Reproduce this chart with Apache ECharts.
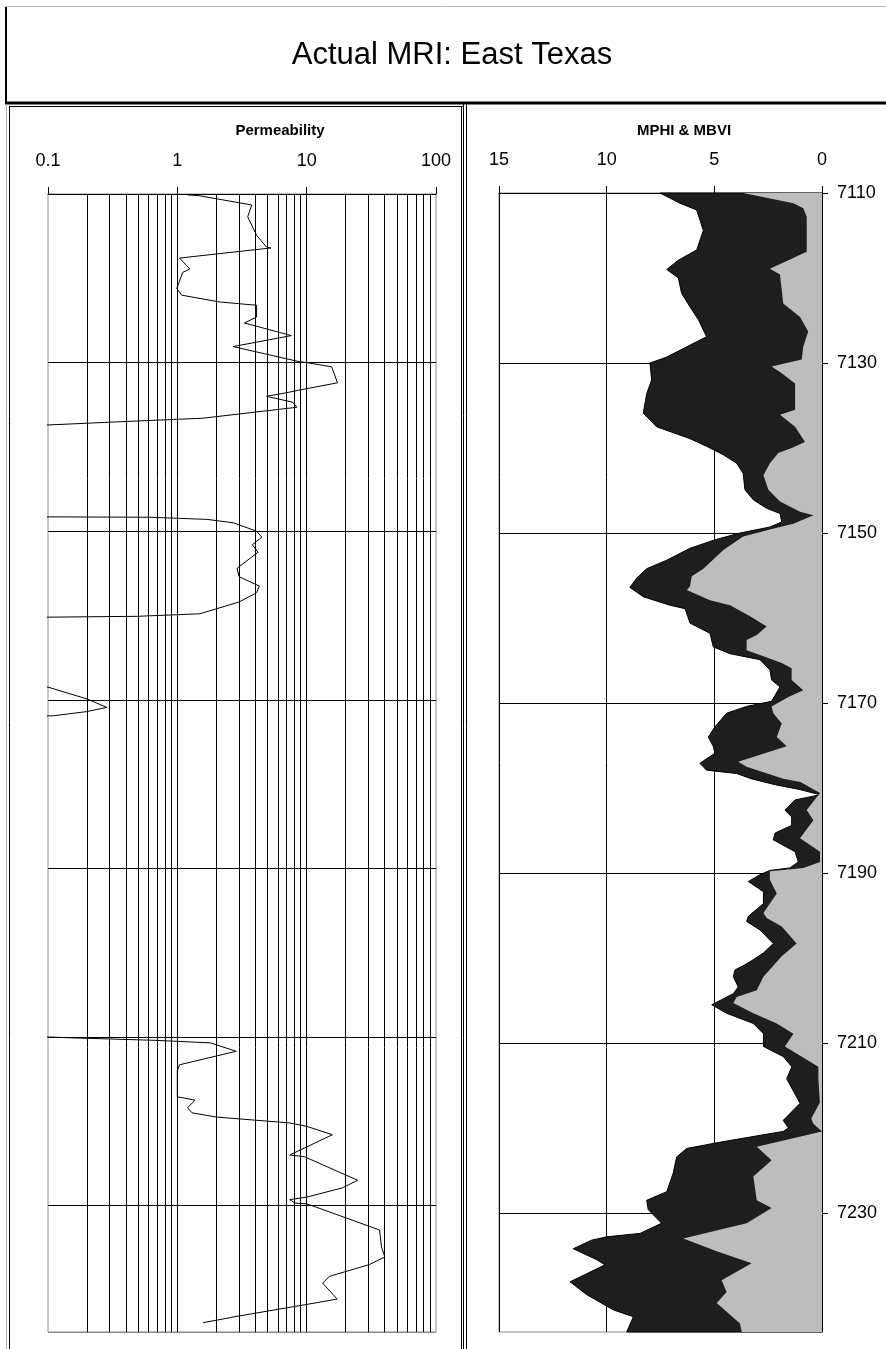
<!DOCTYPE html>
<html><head><meta charset="utf-8">
<script src="https://cdn.jsdelivr.net/npm/echarts@6/dist/echarts.min.js"></script>
<style>html,body{margin:0;padding:0;background:#fff}#c{width:886px;height:1349px}</style>
</head><body><div id="c"></div>
<script>
const chartTitle = 'Actual MRI: East Texas';
const leftTitle = 'Permeability';
const rightTitle = 'MPHI & MBVI';
const depthTicks = [7110, 7130, 7150, 7170, 7190, 7210, 7230];
const permMinorLines = [0.2,0.3,0.4,0.5,0.6,0.7,0.8,0.9,1,2,3,4,5,6,7,8,9,10,20,30,40,50,60,70,80,90];

// Permeability (mD) vs depth (ft); 0.01 marks values below the 0.1 scale
const permDepth = [7110.1,7110.2,7111.3,7112.7,7114.9,7116.3,7116.4,7117.6,7118.9,7119.3,7121.2,7122.0,7122.8,7123.2,7124.6,7125.3,7126.8,7128.1,7129.9,7130.0,7130.5,7132.4,7133.3,7133.5,7134.0,7134.7,7135.3,7136.6,7137.0,7137.4,7137.6,
  7148.0,7148.3,7148.35,7148.6,7149.0,7150.0,7150.7,7151.6,7152.5,7154.4,7155.4,7156.5,7157.3,7158.4,7159.8,7160.1,7160.2,7160.3,
  7168.2,7168.5,7169.9,7170.9,7171.4,7171.9,7172.1,
  7209.8,7210.0,7210.1,7210.4,7210.6,7210.7,7211.7,7213.3,7214.0,7217.1,7217.5,7218.4,7219.0,7219.5,7220.2,7220.6,7221.6,7224.0,7224.2,7227.0,7227.9,7229.0,7229.3,7229.7,7229.8,7230.2,7232.9,7234.9,7236.1,7237.0,7238.4,7239.2,7241.1,7241.6,7243.1,7243.9];
const permValue = [1.2,1.47,3.76,3.5,4.1,4.9,5.3,1.04,1.25,1.1,0.99,1.08,2.1,4.1,4.1,3.3,7.6,2.7,8.8,10,15.6,17.3,8.5,7.4,4.9,7.8,8.4,1.57,0.38,0.1,0.01,
  0.01,0.1,0.61,1.7,2.7,4.1,4.5,3.8,4.2,2.9,3.0,4.3,4.1,3.0,1.49,0.49,0.1,0.01,
  0.01,0.1,0.2,0.285,0.2,0.11,0.01,
  0.01,0.1,0.15,0.67,1.3,1.8,2.85,1.04,1.0,1.0,1.37,1.2,1.3,2.0,7.4,10,15.8,7.4,9.6,24.8,18.9,10,7.4,8.1,10,11.9,36.6,37.9,40.2,30.5,15,13.3,17.2,11.2,3.0,1.58];

// MPHI (p.u.) vs depth
const mphiDepth = [7110.0,7111.2,7112.0,7114.4,7116.7,7117.9,7119.0,7120.0,7121.8,7123.4,7124.9,7126.9,7128.3,7129.3,7130.0,7132.0,7133.6,7135.9,7137.5,7138.9,7139.8,7140.8,7141.8,7143.0,7144.9,7146.1,7147.1,7147.7,7148.7,7149.3,7150.0,7150.8,7151.8,7153.2,7154.2,7155.3,7156.4,7157.5,7158.5,7158.9,7160.6,7161.8,7163.4,7164.2,7164.9,7166.1,7167.3,7168.1,7169.8,7170.4,7171.2,7172.8,7174.0,7175.1,7175.9,7177.1,7177.9,7178.3,7178.9,7179.6,7180.2,7180.8,7181.4,7182.6,7183.4,7184.4,7185.3,7186.1,7187.5,7188.7,7189.4,7189.7,7190.2,7191.0,7192.2,7193.6,7195.1,7195.7,7196.7,7198.3,7199.4,7200.2,7200.8,7201.4,7202.2,7203.4,7204.2,7205.5,7206.5,7207.7,7208.9,7210.4,7211.6,7212.8,7214.2,7217.1,7219.1,7220.0,7220.4,7221.6,7222.4,7223.4,7225.3,7227.5,7228.5,7229.6,7231.2,7232.4,7232.8,7233.2,7234.2,7235.5,7236.1,7238.1,7239.6,7241.4,7242.2,7244.0];
const mphiValue = [7.52,6.6,5.82,5.51,5.82,6.67,7.21,6.67,6.52,6.13,5.74,5.36,6.44,7.21,7.99,7.91,8.14,8.3,7.68,6.13,5.36,4.58,3.96,3.66,3.58,3.19,2.57,1.95,1.87,2.42,3.81,4.97,6.13,7.21,8.14,8.6,8.92,8.3,7.06,6.36,6.13,5.2,5.05,4.27,2.88,2.42,2.34,1.95,2.34,3.5,4.43,4.97,5.28,5.05,4.97,5.67,5.36,3.96,3.3,2.2,1.0,0.09,1.25,1.72,1.41,1.41,2.18,2.26,1.25,1.1,1.49,2.42,2.88,3.42,2.72,2.72,3.42,3.5,2.88,2.26,2.72,3.19,3.58,4.04,4.12,3.89,4.12,5.12,4.43,3.19,2.72,2.72,1.8,1.4,1.64,1.02,1.8,1.56,1.8,4.58,6.28,6.75,6.91,7.21,8.14,8.07,7.45,8.45,10.0,10.7,11.55,10.46,10.08,11.7,10.93,9.69,8.76,9.07];

// MBVI (p.u.) vs depth
const mbviDepth = [7110.0,7111.2,7111.8,7112.8,7116.9,7118.9,7119.6,7121.4,7123.0,7124.6,7126.3,7128.1,7129.6,7130.4,7131.2,7132.4,7135.5,7136.1,7137.5,7139.3,7140.0,7140.6,7141.8,7143.2,7144.9,7146.3,7147.5,7147.9,7148.9,7149.6,7150.4,7152.0,7154.2,7155.1,7156.3,7156.7,7157.9,7158.5,7159.8,7161.0,7162.0,7162.6,7163.8,7164.5,7165.3,7165.9,7167.3,7168.5,7169.3,7170.4,7171.2,7172.4,7174.0,7175.1,7176.9,7177.5,7178.9,7179.3,7180.6,7182.6,7183.8,7185.9,7187.5,7188.7,7189.4,7189.8,7190.8,7192.4,7194.7,7195.3,7196.3,7198.3,7199.8,7202.2,7203.8,7204.6,7205.3,7206.5,7207.7,7208.9,7210.4,7212.8,7214.2,7217.0,7218.9,7219.5,7220.4,7222.2,7223.8,7225.7,7228.5,7229.4,7231.2,7233.0,7234.5,7235.9,7237.9,7239.3,7240.6,7243.0,7244.0];
const mbviValue = [3.66,1.33,0.87,0.71,0.71,2.42,1.95,1.87,1.8,1.02,0.64,0.87,0.94,2.34,1.87,1.25,1.25,1.95,1.25,0.79,1.41,2.03,2.42,2.72,2.49,1.95,1.02,0.4,1.33,2.42,3.66,4.58,5.51,6.05,6.13,6.28,5.2,4.27,3.34,2.57,3.03,3.5,3.5,2.72,1.87,1.41,1.41,0.87,1.56,2.34,2.26,1.87,2.1,1.64,3.89,3.5,1.8,1.0,0.09,0.71,0.4,1.02,0.09,0.09,0.87,2.42,2.42,2.1,2.72,2.57,1.87,1.18,1.87,2.72,3.03,3.96,4.12,3.19,2.1,1.33,1.72,0.17,0.17,0.1,0.5,0.4,0.0,3.03,2.34,3.19,3.03,2.34,3.5,6.44,4.89,3.27,4.66,4.43,4.89,3.81,3.73];

const FONT = "'Liberation Sans', Arial, sans-serif";
const permData = permDepth.map((d, i) => [permValue[i], d]);

function areaItem(depths, values, fill, stroke) {
  return function (params, api) {
    const pts = [api.coord([0, depths[0]])];
    for (let i = 0; i < depths.length; i++) pts.push(api.coord([values[i], depths[i]]));
    pts.push(api.coord([0, depths[depths.length - 1]]));
    return { type: 'polygon', shape: { points: pts }, style: { fill: fill, stroke: stroke, lineWidth: stroke ? 1 : 0 } };
  };
}

const black = '#000';
const gridGrey = '#8c8c8c';
const splitColors = ['#000','#000','#000','#000','#000','#000','#000', gridGrey];

const chart = echarts.init(document.getElementById('c'), null, { renderer: 'canvas' });
chart.setOption({
  animation: false,
  backgroundColor: '#fff',
  textStyle: { fontFamily: FONT },
  grid: [
    { left: 48, top: 194, width: 388, height: 1138, show: true, borderColor: gridGrey, borderWidth: 1, backgroundColor: '#fff' },
    { left: 499, top: 193, width: 323, height: 1139, show: true, borderColor: gridGrey, borderWidth: 1, backgroundColor: '#fff' }
  ],
  xAxis: [
    { gridIndex: 0, type: 'log', logBase: 10, min: 0.1, max: 100, position: 'top',
      axisLine: { show: true, lineStyle: { color: black, width: 1 } },
      axisTick: { show: true, inside: false, length: 7, lineStyle: { color: black } },
      axisLabel: { fontSize: 18, color: black, margin: 24, fontFamily: FONT, formatter: v => String(+(+v).toPrecision(2)) },
      splitLine: { show: false }, minorTick: { show: false } },
    { gridIndex: 1, type: 'value', inverse: true, min: 0, max: 15, interval: 5, position: 'top',
      axisLine: { show: true, lineStyle: { color: black, width: 1 } },
      axisTick: { show: true, inside: false, length: 7, lineStyle: { color: black } },
      axisLabel: { fontSize: 18, color: black, margin: 24, fontFamily: FONT },
      splitLine: { show: true, lineStyle: { color: black, width: 1 } } }
  ],
  yAxis: [
    { gridIndex: 0, type: 'value', inverse: true, min: 7110, max: 7245, interval: 20,
      axisLine: { show: false }, axisTick: { show: false }, axisLabel: { show: false },
      splitLine: { show: true, lineStyle: { color: splitColors, width: 1 } } },
    { gridIndex: 1, type: 'value', inverse: true, min: 7110, max: 7244, interval: 20, position: 'right',
      axisLine: { show: true, lineStyle: { color: black, width: 1 } },
      axisTick: { show: true, inside: false, length: 6, lineStyle: { color: black }, customValues: depthTicks },
      axisLabel: { fontSize: 18, color: black, margin: 15, fontFamily: FONT, customValues: depthTicks, formatter: v => String(v) },
      splitLine: { show: true, lineStyle: { color: splitColors, width: 1 } } }
  ],
  series: [
    { name: 'Permeability', type: 'line', xAxisIndex: 0, yAxisIndex: 0, data: permData,
      showSymbol: false, symbol: 'none', clip: true, z: 3,
      lineStyle: { color: black, width: 1 },
      markLine: { silent: true, symbol: ['none', 'none'], label: { show: false },
        lineStyle: { color: black, width: 1, type: 'solid' },
        data: permMinorLines.map(v => ({ xAxis: v })) } },
    { name: 'MPHI', type: 'custom', xAxisIndex: 1, yAxisIndex: 1, data: [[0, 7110]], z: 2,
      renderItem: areaItem(mphiDepth, mphiValue, '#1e1e1e', '#000') },
    { name: 'MBVI', type: 'custom', xAxisIndex: 1, yAxisIndex: 1, data: [[0, 7110]], z: 3,
      renderItem: areaItem(mbviDepth, mbviValue, '#bdbdbd', null) }
  ],
  graphic: [
    { type: 'line', shape: { x1: 5, y1: 6.5, x2: 886, y2: 6.5 }, style: { stroke: '#bbb', lineWidth: 1 } },
    { type: 'line', shape: { x1: 6, y1: 7, x2: 6, y2: 104 }, style: { stroke: '#000', lineWidth: 2 } },
    { type: 'line', shape: { x1: 5, y1: 103, x2: 886, y2: 103 }, style: { stroke: '#000', lineWidth: 3 } },
    { type: 'line', shape: { x1: 6.5, y1: 104, x2: 6.5, y2: 1349 }, style: { stroke: '#aaa', lineWidth: 1 } },
    { type: 'line', shape: { x1: 9.5, y1: 106.5, x2: 463, y2: 106.5 }, style: { stroke: '#000', lineWidth: 1 } },
    { type: 'line', shape: { x1: 9.5, y1: 106, x2: 9.5, y2: 1349 }, style: { stroke: '#000', lineWidth: 1 } },
    { type: 'line', shape: { x1: 461.5, y1: 106, x2: 461.5, y2: 1349 }, style: { stroke: '#000', lineWidth: 1 } },
    { type: 'line', shape: { x1: 463.5, y1: 104, x2: 463.5, y2: 1349 }, style: { stroke: '#000', lineWidth: 1 } },
    { type: 'line', shape: { x1: 466.5, y1: 104, x2: 466.5, y2: 1349 }, style: { stroke: '#000', lineWidth: 1 } },
    { type: 'text', x: 452, y: 55, style: { text: chartTitle, fill: '#000', font: "31px " + FONT, textAlign: 'center', textVerticalAlign: 'middle' } },
    { type: 'text', x: 280, y: 131, style: { text: leftTitle, fill: '#000', font: "bold 15px " + FONT, textAlign: 'center', textVerticalAlign: 'middle' } },
    { type: 'text', x: 684, y: 131, style: { text: rightTitle, fill: '#000', font: "bold 15px " + FONT, textAlign: 'center', textVerticalAlign: 'middle' } }
  ]
});
</script></body></html>
